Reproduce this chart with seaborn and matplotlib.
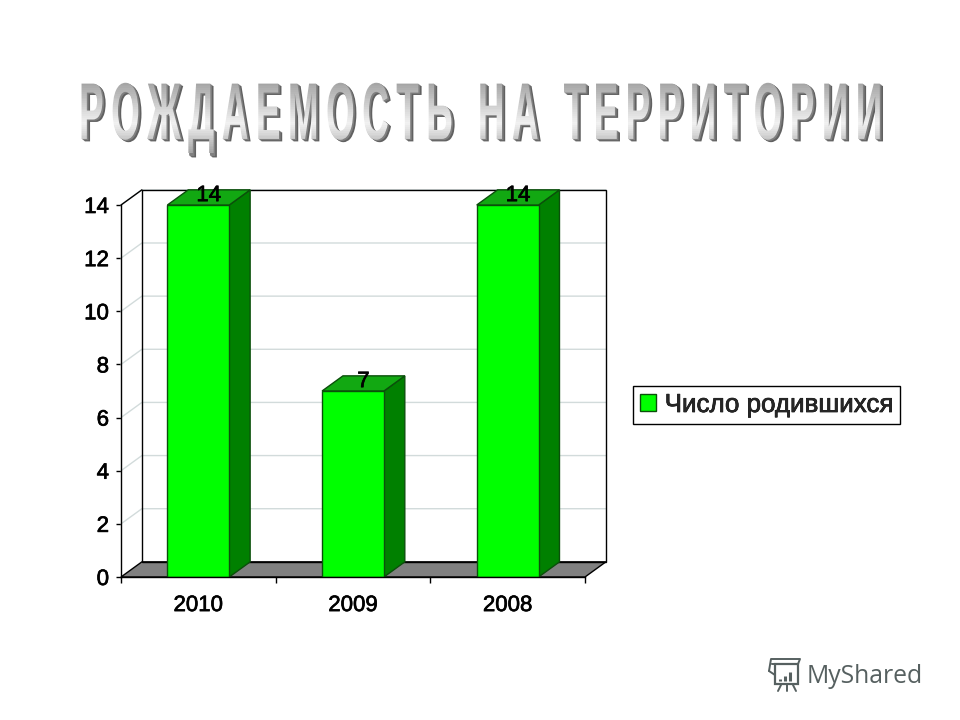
import pandas as pd
import matplotlib
matplotlib.use("Agg")
import matplotlib.pyplot as plt
import seaborn as sns
from matplotlib.patches import Polygon, Rectangle
from matplotlib.patheffects import AbstractPathEffect, withStroke
from matplotlib.transforms import Affine2D, Bbox

# data
years = ["2010", "2009", "2008"]
births = [14, 7, 14]
series_name = "Число родившихся"
y_ticks = [0, 2, 4, 6, 8, 10, 12, 14]
title_text = "РОЖДАЕМОСТЬ НА ТЕРРИТОРИИ"

df = pd.DataFrame({"year": years, "births": births, "series": series_name})

sns.set_theme(style="white")
plt.rcParams["font.family"] = ["Liberation Sans", "DejaVu Sans"]

W, H = 960, 720
GREEN_FRONT = "#00ff00"
GREEN_SIDE = "#008000"
GREEN_TOP = "#12a812"
BAR_EDGE = "#0b4f0b"
GRID = "#d2dbdb"
# fake 3D depth in data units
DEPTH_X = 0.135
DEPTH_Y = 0.57
LABEL_STROKE = [withStroke(linewidth=0.5, foreground="black")]


class WordArt(AbstractPathEffect):
    """Stretch the text vertically, extrude it and fill it with a grey gradient."""

    def __init__(self, stretch, baseline):
        super().__init__()
        self.stretch = stretch
        self.baseline = baseline

    def draw_path(self, renderer, gc, tpath, affine, rgbFace=None):
        base = affine + Affine2D().translate(0, -self.baseline).scale(1, self.stretch).translate(0, self.baseline)
        g = renderer.new_gc()
        g.copy_properties(gc)
        g.set_linewidth(0)
        # extruded shadow
        for i in range(4, 0, -1):
            col = (0.38, 0.38, 0.38) if i > 2 else (0.5, 0.5, 0.5)
            renderer.draw_path(g, tpath, base + Affine2D().translate(i * 0.8, -i * 0.6), col)
        # gradient face, top to bottom
        top = self.baseline + 60
        bottom = self.baseline - 14
        bands = 40
        for i in range(bands):
            t = i / (bands - 1)
            level = 0.62 + 0.33 * min(t / 0.6, 1) if t < 0.6 else 0.95 - 0.3 * (t - 0.6) / 0.4
            y1 = top - (top - bottom) * i / bands
            y0 = top - (top - bottom) * (i + 1) / bands
            g.set_clip_rectangle(Bbox([[0, y0], [W, y1]]))
            renderer.draw_path(g, tpath, base, (level, level, level))
        g.restore()


fig = plt.figure(figsize=(W / 100, H / 100), dpi=100, facecolor="white")
ax = fig.add_axes([121 / W, 1 - 577 / H, (585 - 121) / W, (577 - 205) / H])
ax.set_facecolor("none")

sns.barplot(data=df, x="year", y="births", hue="series", palette=[GREEN_FRONT],
            width=0.4, edgecolor=BAR_EDGE, linewidth=1, saturation=1, ax=ax, zorder=5)
ax.set_xlim(-0.5, 2.5)
ax.set_ylim(0, 14)
ax.set_xlabel("")
ax.set_ylabel("")

x_left, x_right = ax.get_xlim()
y_top = ax.get_ylim()[1]

# floor
ax.add_patch(Polygon([(x_left, 0), (x_right, 0), (x_right + DEPTH_X, DEPTH_Y), (x_left + DEPTH_X, DEPTH_Y)],
                     closed=True, facecolor="#808080", edgecolor="black", lw=1, clip_on=False, zorder=2))

# walls and grid lines
for v in y_ticks[1:]:
    ax.plot([x_left, x_left + DEPTH_X, x_right + DEPTH_X], [v, v + DEPTH_Y, v + DEPTH_Y],
            color=GRID, lw=1, clip_on=False, zorder=1)
ax.add_patch(Rectangle((x_left + DEPTH_X, DEPTH_Y), x_right - x_left, y_top, fill=False,
                       edgecolor="black", lw=1, clip_on=False, zorder=2))
ax.plot([x_left, x_left + DEPTH_X], [y_top, y_top + DEPTH_Y], color="black", lw=1, clip_on=False, zorder=2)

# side and top faces of the bars, values above them
for bar, value in zip(ax.containers[0], births):
    x0 = bar.get_x()
    x1 = x0 + bar.get_width()
    h = bar.get_height()
    ax.add_patch(Polygon([(x1, 0), (x1 + DEPTH_X, DEPTH_Y), (x1 + DEPTH_X, h + DEPTH_Y), (x1, h)], closed=True,
                         facecolor=GREEN_SIDE, edgecolor=BAR_EDGE, lw=1, clip_on=False, zorder=4))
    ax.add_patch(Polygon([(x0, h), (x1, h), (x1 + DEPTH_X, h + DEPTH_Y), (x0 + DEPTH_X, h + DEPTH_Y)], closed=True,
                         facecolor=GREEN_TOP, edgecolor=BAR_EDGE, lw=1, clip_on=False, zorder=4))
    ax.text((x0 + x1) / 2 + DEPTH_X / 2, h + DEPTH_Y * 0.62, str(value), ha="center", va="center",
            fontsize=16, color="black", clip_on=False, zorder=6, path_effects=LABEL_STROKE)

# axes
sns.despine(ax=ax, top=True, right=True)
for side in ("left", "bottom"):
    ax.spines[side].set_color("black")
    ax.spines[side].set_linewidth(1)
    ax.spines[side].set_zorder(7)
ax.set_yticks(y_ticks)
ax.set_xticks([0, 1, 2])
ax.set_xticks([x_left, -0.5 + 1, 0.5 + 1, x_right], minor=True)
ax.tick_params(axis="y", which="major", left=True, length=3.6, width=1, color="black", pad=5,
               labelsize=16, labelcolor="black")
ax.tick_params(axis="x", which="major", bottom=False, length=0, pad=13, labelsize=16, labelcolor="black")
ax.tick_params(axis="x", which="minor", bottom=True, length=4.5, width=1, color="black")
for lab in ax.get_xticklabels() + ax.get_yticklabels():
    lab.set_path_effects(LABEL_STROKE)

# legend
handles, labels = ax.get_legend_handles_labels()
leg = ax.legend(handles, labels, loc="center left", bbox_to_anchor=(633 / W, 1 - 405 / H),
                bbox_transform=fig.transFigure, frameon=True, fancybox=False, framealpha=1,
                edgecolor="black", borderaxespad=0, fontsize=18.7, borderpad=0.28,
                handlelength=0.62, handleheight=0.62, handletextpad=0.32)
leg.get_frame().set_linewidth(1)
for t in leg.get_texts():
    t.set_path_effects(LABEL_STROKE)

# title, spaced out with thin spaces
base_px = H - 139
fig.text(0.5, base_px / H, "\u2009".join(title_text), ha="center", va="baseline", fontsize=26.6,
         weight="bold", color="#c0c0c0", path_effects=[WordArt(2.18, base_px)])

# watermark
logo = fig.add_axes([0, 0, 1, 1])
logo.set_xlim(0, W)
logo.set_ylim(H, 0)
logo.axis("off")
logo.patch.set_alpha(0)
LOGO = "#566060"
logo.add_patch(Rectangle((775, 664), 23, 20, fill=False, edgecolor=LOGO, lw=1.6))
logo.plot([769, 771, 800, 798, 772], [671, 659, 659, 664, 664], color=LOGO, lw=1.4)
logo.plot([769, 775], [671, 675], color=LOGO, lw=1.4)
for x_b, top_b in [(780, 679), (785, 676), (790, 672)]:
    logo.plot([x_b, x_b], [681, top_b], color=LOGO, lw=2.2, solid_capstyle="butt")
for x_a, x_b2 in [(781, 778), (787, 787), (793, 796)]:
    logo.plot([x_a, x_b2], [685, 691], color=LOGO, lw=1.4)
logo.text(807, 683, "MyShared", fontsize=17.8, color=LOGO, family="Open Sans", ha="left", va="baseline")

fig.savefig("out.png", dpi=100, facecolor="white")
plt.close(fig)
